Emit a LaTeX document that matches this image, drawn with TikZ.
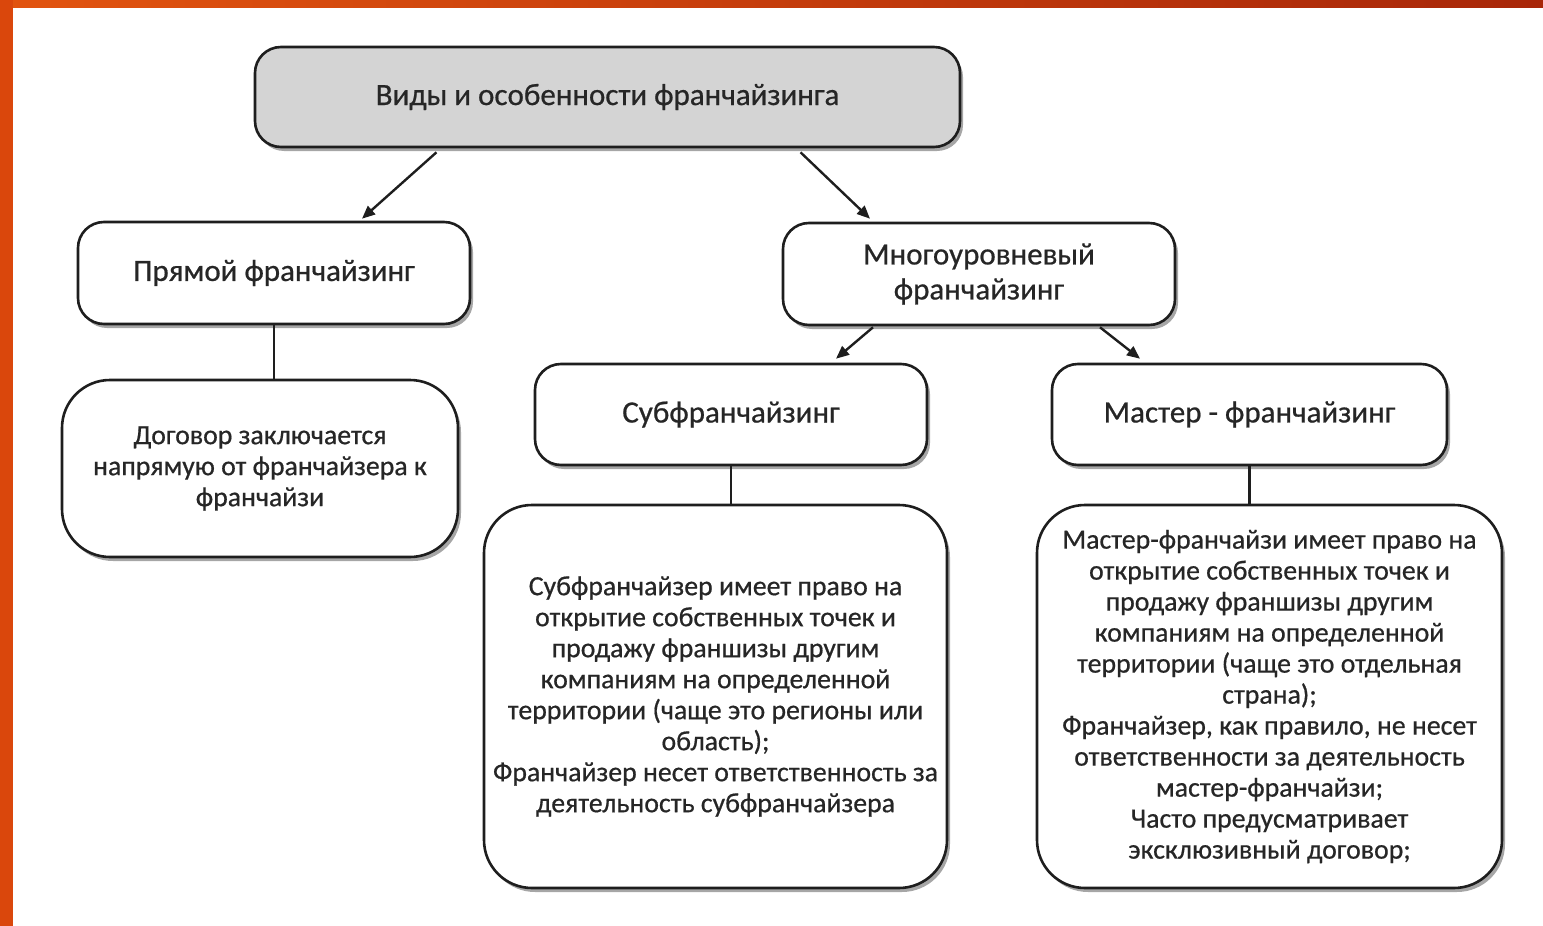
\documentclass[tikz,border=0pt]{standalone}
\usepackage{fontspec}
\setmainfont{Carlito}[FakeBold=0.6]
\usetikzlibrary{shadows,arrows.meta,calc}
\definecolor{txt}{HTML}{262626}
\definecolor{boxline}{HTML}{1E1E1E}
\definecolor{hdrfill}{HTML}{D4D4D4}
\definecolor{orA}{HTML}{E2540F}
\definecolor{orB}{HTML}{A82608}
\definecolor{orL}{HTML}{DA470C}
\tikzset{
  box/.style={draw=boxline, line width=2.6pt, rounded corners=26pt, fill=white,
    inner sep=0pt, align=center, text=txt,
    drop shadow={shadow xshift=3pt, shadow yshift=-4pt, opacity=0.35, fill=black}},
  titlebox/.style={box, font=\fontsize{31}{35}\selectfont},
  bodybox/.style={box, rounded corners=48pt, font=\fontsize{27.8}{31}\selectfont},
  arr/.style={draw=boxline, line width=2.4pt, -{Triangle[length=13pt,width=11pt]}},
  link/.style={draw=boxline, line width=2.4pt}
}
\begin{document}
\begin{tikzpicture}[x=1pt,y=-1pt]
\useasboundingbox (0,0) rectangle (1543,926);
\fill[white] (0,0) rectangle (1543,926);
\shade[left color=orA, right color=orB] (0,0) rectangle (1543,7);
\fill[orL] (0,0) rectangle (13,926);

\node[titlebox, fill=hdrfill, minimum width=705pt, minimum height=100pt] (top) at (607.5,97) {Виды и особенности франчайзинга};
\node[titlebox, minimum width=392pt, minimum height=102pt] (pr) at (274,273) {Прямой франчайзинг};
\node[titlebox, minimum width=392pt, minimum height=102pt] (mn) at (979,274) {Многоуровневый\\франчайзинг};
\node[bodybox, minimum width=396pt, minimum height=177pt] (dog) at (260,468.5) {Договор заключается\\напрямую от франчайзера к\\франчайзи};
\node[titlebox, minimum width=392pt, minimum height=101pt] (sub) at (731,414.5) {Субфранчайзинг};
\node[titlebox, minimum width=395pt, minimum height=101pt] (mas) at (1249.5,414.5) {Мастер - франчайзинг};
\node[bodybox, minimum width=463pt, minimum height=383pt] (subb) at (715.5,696.5) {Субфранчайзер имеет право на\\открытие собственных точек и\\продажу франшизы другим\\компаниям на определенной\\территории (чаще это регионы или\\область);\\Франчайзер несет ответственность за\\деятельность субфранчайзера};
\node[bodybox, minimum width=465pt, minimum height=383pt] (masb) at (1269.5,696.5) {Мастер-франчайзи имеет право на\\открытие собственных точек и\\продажу франшизы другим\\компаниям на определенной\\территории (чаще это отдельная\\страна);\\Франчайзер, как правило, не несет\\ответственности за деятельность\\мастер-франчайзи;\\Часто предусматривает\\эксклюзивный договор;};

\draw[arr] ($(top.south)+(-171,4)$) -- ($(pr.north)+(88,-2)$);
\draw[arr] ($(top.south)+(193,4)$) -- ($(mn.north)+(-109,-3)$);
\draw[arr] ($(mn.south)+(-106,1)$) -- ($(sub.north)+(105,-4)$);
\draw[arr] ($(mn.south)+(121,1)$) -- ($(mas.north)+(-109.5,-4)$);
\draw[link] (pr.south) -- (pr.south |- dog.north);
\draw[link] (sub.south) -- (sub.south |- subb.north);
\draw[link] (mas.south) -- (mas.south |- masb.north);
\end{tikzpicture}
\end{document}
